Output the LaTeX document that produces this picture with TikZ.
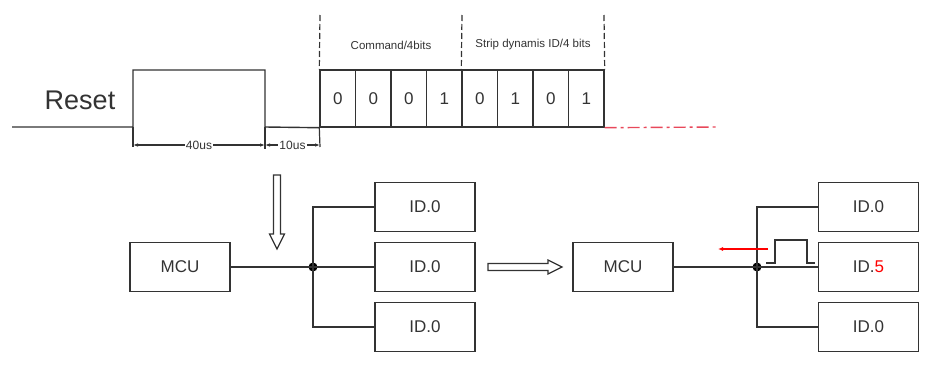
\documentclass[tikz,border=0pt]{standalone}
\usepackage{fontspec}
\setmainfont{Liberation Sans}
\usetikzlibrary{arrows.meta}
\definecolor{ink}{HTML}{333333}
\definecolor{redline}{HTML}{E8485A}
\tikzset{
  box/.style={draw=ink, line width=1.4pt, minimum width=100, minimum height=49, inner sep=0, font=\fontsize{17}{17}\selectfont, text=ink},
  bitbox/.style={draw=ink, line width=1.4pt, minimum width=35.5, minimum height=57, inner sep=0, font=\fontsize{17}{17}\selectfont, text=ink},
  wire/.style={draw=ink, line width=1.4pt},
  guide/.style={draw=ink, line width=1.2pt, dash pattern=on 6pt off 3pt},
  dim/.style={draw=ink, line width=1.2pt, {Latex[length=5,width=3.5]}-{Latex[length=5,width=3.5]}},
  dimlabel/.style={fill=white, inner sep=1pt, font=\fontsize{12}{12}\selectfont, text=ink},
  toplabel/.style={inner sep=0, font=\fontsize{11.5}{11.5}\selectfont, text=ink},
  hollow/.style={draw=ink, line width=1.2pt, fill=white, line join=miter},
  jdot/.style={circle, fill=black, inner sep=0, minimum size=9}
}
\begin{document}
\begin{tikzpicture}[x=1pt,y=-1pt]
\useasboundingbox (0,0) rectangle (927,367);

% ---- timing diagram ----
\node[font=\fontsize{27}{27}\selectfont, text=ink] (reset) at (80,100) {Reset};
\foreach \b [count=\i] in {0,0,0,1,0,1,0,1} {
  \node[bitbox] (bit\i) at ({320+35.5*(\i-0.5)},98.5) {\b};
}
\draw[wire] (12,127) -- (133,127) -- (133,70) -- (265,70) -- (265,127) -- (bit1.south west);
\draw[redline, line width=1.4pt, dash pattern=on 12pt off 4pt on 3pt off 4pt] (bit8.south east) -- (717,127);

% dashed guides
\draw[guide] (320,15) -- (bit1.north west);
\draw[guide] (462,15) -- (bit5.north west);
\draw[guide] (604,15) -- (bit8.north east);
\node[toplabel] (cmd) at (391,45) {Command/4bits};
\node[toplabel] (sid) at (533,45) {Strip dynamis ID/4 bits};

% dimensions
\draw[wire, line width=1.2pt] (133,127) -- (133,147);
\draw[wire, line width=1.2pt] (265,127) -- (265,149);
\draw[wire, line width=1.2pt] (bit1.south west) -- (320,147);
\draw[dim] (133,145) -- node[dimlabel] (d40) {40us} (265,145);
\draw[dim] (265,145) -- node[dimlabel] (d10) {10us} (320,145);

% ---- left bus ----
\draw[hollow] (273.5,175) -- (280.5,175) -- (280.5,234) -- (284.5,234) -- (277,249) -- (269.5,234) -- (273.5,234) -- cycle;
\node[box] (mcu1) at (180,267) {MCU};
\node[box] (a1) at (425,207) {ID.0};
\node[box] (a2) at (425,267) {ID.0};
\node[box] (a3) at (425,327) {ID.0};
\node[jdot] (j1) at (313,267) {};
\draw[wire] (mcu1.east) -- (j1.center) -- (a2.west);
\draw[wire] (a1.west) -| (j1.center) |- (a3.west);

% ---- middle arrow ----
\draw[hollow] (488,263.5) -- (548,263.5) -- (548,260) -- (562,267) -- (548,274) -- (548,270.5) -- (488,270.5) -- cycle;

% ---- right bus ----
\node[box] (mcu2) at (623,267) {MCU};
\node[box] (b1) at (868.5,207) {ID.0};
\node[box] (b2) at (868.5,267) {ID.\textcolor{red}{5}};
\node[box] (b3) at (868.5,327) {ID.0};
\node[jdot] (j2) at (757,267) {};
\draw[wire] (mcu2.east) -- (j2.center) -- (b2.west);
\draw[wire] (b1.west) -| (j2.center) |- (b3.west);

% pulse and red arrow
\coordinate (p0) at (766,263);
\coordinate (p1) at (815,263);
\draw[draw=ink, line width=1.2pt] (p0) -- (775,263) -- (775,240) -- (807,240) -- (807,263) -- (p1);
\coordinate (r0) at (768,249);
\coordinate (r1) at (718,249);
\draw[red, line width=1.3pt, -{Latex[length=5,width=4]}] (r0) -- (r1);
\end{tikzpicture}
\end{document}
